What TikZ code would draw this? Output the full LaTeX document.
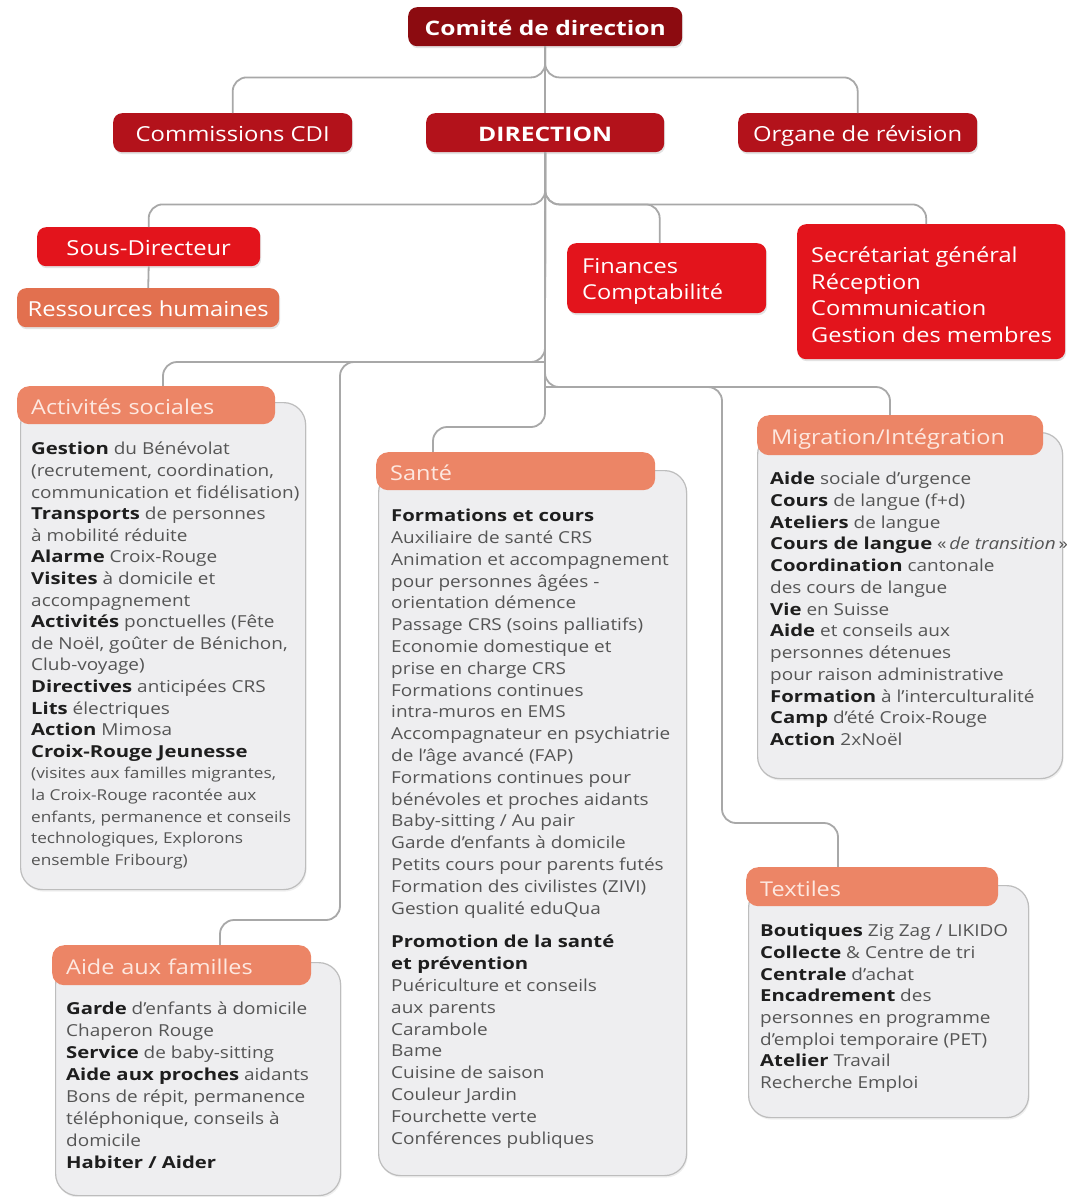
\documentclass[tikz,border=0pt]{standalone}
\usepackage{fontspec}
\setmainfont{Open Sans}[FakeStretch=1.15, BoldFeatures={FakeStretch=1.23}]
\usetikzlibrary{calc,shadows}
\definecolor{dred}{HTML}{8C0B10}
\definecolor{cred}{HTML}{B3121B}
\definecolor{bred}{HTML}{E3141C}
\definecolor{rhor}{HTML}{E2704F}
\definecolor{salm}{HTML}{EC8566}
\definecolor{bodyg}{HTML}{EEEEF0}
\definecolor{bordg}{HTML}{BDBDBD}
\definecolor{connc}{HTML}{A8A8A8}
\definecolor{txtg}{HTML}{555555}
\definecolor{txtb}{HTML}{1E1E1E}
\definecolor{hdrtxt}{HTML}{FDE8E0}
\newcommand{\B}[1]{{\bfseries\color{txtb}#1}}
\tikzset{
  conn/.style={draw=connc, line width=1.8pt, rounded corners=14pt},
  shad/.style={drop shadow={opacity=0.22, shadow xshift=1pt, shadow yshift=-2pt}},
  topbox/.style={rectangle, rounded corners=9pt, inner sep=0pt, anchor=north west, text=white,
    text height=17.5pt, text depth=0.5pt, shad, font={\fontsize{20.7}{24}\selectfont}},
  hdr/.style={rectangle, rounded corners=12pt, fill=salm, inner xsep=14pt, inner ysep=0pt,
    anchor=north west, align=left, text=hdrtxt, text height=19.5pt, text depth=0.5pt,
    font={\fontsize{20.4}{24}\selectfont}},
  bodybox/.style={rectangle, rounded corners=22pt, fill=bodyg, draw=bordg, line width=1.2pt,
    inner sep=0pt, anchor=north west, drop shadow={opacity=0.12, shadow xshift=1pt, shadow yshift=-2pt}},
  bodytxt/.style={anchor=north west, inner sep=0pt, align=left, text=txtg,
    font={\fontsize{16.5}{21.6}\selectfont}},
  redtxt/.style={anchor=north west, inner sep=0pt, align=left, text=white,
    font={\fontsize{20.5}{26.5}\selectfont}}
}
\begin{document}
\begin{tikzpicture}[x=1pt,y=-1pt]
\useasboundingbox[fill=white] (0,0) rectangle (1066,1197);

% ---------- entry points ----------
\coordinate (actIn) at (163,387);
\coordinate (santeIn) at (433,453);
\coordinate (migIn) at (890,416);
\coordinate (texIn) at (838,868);
\coordinate (famIn) at (220,946);

% ---------- top level boxes ----------
\node[topbox, fill=dred, minimum width=274pt, minimum height=39pt, font={\fontsize{20}{24}\selectfont}] (comite) at (408,7) {\bfseries Comité de direction};
\node[topbox, fill=cred, minimum width=239pt, minimum height=39pt] (cdi) at (113,113) {Commissions CDI};
\node[topbox, fill=cred, minimum width=238pt, minimum height=39pt, font={\fontsize{20}{24}\selectfont}] (direction) at (426,113) {\bfseries DIRECTION};
\node[topbox, fill=cred, minimum width=239pt, minimum height=39pt] (organe) at (738,113) {Organe de révision};

\node[topbox, fill=bred, minimum width=223pt, minimum height=39pt] (sousdir) at (37,227) {Sous-Directeur};
\node[topbox, fill=rhor, minimum width=262pt, minimum height=39pt] (rh) at (17,288) {Ressources humaines};
\node[topbox, fill=bred, minimum width=199pt, minimum height=70pt] (fin) at (567,243) {};
\node[redtxt] (fintxt) at (582,258) {Finances\\Comptabilité};
\node[topbox, fill=bred, minimum width=268pt, minimum height=135pt] (sec) at (797,224) {};
\node[redtxt] (sectxt) at (811,247) {Secrétariat général\\Réception\\Communication\\Gestion des membres};

% ---------- connectors ----------
\draw[conn] (comite.south) -- (direction.north);
\draw[conn] (comite.south) -- ++(0,31) -| (cdi.north);
\draw[conn] (comite.south) -- ++(0,31) -| (organe.north);
\draw[conn] (direction.south) -- ++(0,52) -| (sousdir.north);
\draw[conn] (direction.south) -- ++(0,52) -| ($(fin.north)+(-7,0)$);
\draw[conn] (direction.south) -- ++(0,52) -| ($(sec.north)+(-5,0)$);
\draw[conn] (sousdir.south) -- (rh.north);
\draw[conn] (direction.south) -- (545,362) -| (actIn);
\draw[conn] (545,362) -| (340,920) -| (famIn);
\draw[conn] (direction.south) -- (545,387) -| (migIn);
\draw[conn] (545,387) -| (722,823) -| (texIn);
\draw[conn] (direction.south) -- (545,427) -| (santeIn);

% ---------- Activités sociales ----------
\node[bodybox, minimum width=285pt, minimum height=487pt] (actb) at (20,402) {};
\node[hdr, text width=230pt, minimum height=38pt] (acth) at (17,386) {Activités sociales};
\node[bodytxt] (actt) at (31,442) {\B{Gestion} du Bénévolat\\
(recrutement, coordination,\\
communication et fidélisation)\\
\B{Transports} de personnes\\
à mobilité réduite\\
\B{Alarme} Croix-Rouge\\
\B{Visites} à domicile et\\
accompagnement\\
\B{Activités} ponctuelles (Fête\\
de Noël, goûter de Bénichon,\\
Club-voyage)\\
\B{Directives} anticipées CRS\\
\B{Lits} électriques\\
\B{Action} Mimosa\\
\B{Croix-Rouge Jeunesse}\\
{\fontsize{15}{21.4}\selectfont (visites aux familles migrantes,}\\
{\fontsize{15}{21.4}\selectfont la Croix-Rouge racontée aux}\\
{\fontsize{15}{21.4}\selectfont enfants, permanence et conseils}\\
{\fontsize{15}{21.4}\selectfont technologiques, Explorons}\\
{\fontsize{15}{21.4}\selectfont ensemble Fribourg)}};

% ---------- Santé ----------
\node[bodybox, minimum width=308pt, minimum height=705pt] (santeb) at (378,470) {};
\node[hdr, text width=251pt, minimum height=38pt] (santeh) at (376,452) {Santé};
\node[bodytxt, font={\fontsize{16.5}{21.8}\selectfont}] (santet) at (391,509) {\B{Formations et cours}\\
Auxiliaire de santé CRS\\
Animation et accompagnement\\
pour personnes âgées -\\
orientation démence\\
Passage CRS (soins palliatifs)\\
Economie domestique et\\
prise en charge CRS\\
Formations continues\\
intra-muros en EMS\\
Accompagnateur en psychiatrie\\
de l’âge avancé (FAP)\\
Formations continues pour\\
bénévoles et proches aidants\\
Baby-sitting / Au pair\\
Garde d’enfants à domicile\\
Petits cours pour parents futés\\
Formation des civilistes (ZIVI)\\
Gestion qualité eduQua\\[12pt]
\B{Promotion de la santé}\\
\B{et prévention}\\
Puériculture et conseils\\
aux parents\\
Carambole\\
Bame\\
Cuisine de saison\\
Couleur Jardin\\
Fourchette verte\\
Conférences publiques};

% ---------- Migration ----------
\node[bodybox, minimum width=305pt, minimum height=346pt] (migb) at (757,432) {};
\node[hdr, text width=258pt, minimum height=40pt] (migh) at (757,415) {Migration/Intégration};
\node[bodytxt, font={\fontsize{16.5}{21.75}\selectfont}] (migt) at (770,472) {\B{Aide} sociale d’urgence\\
\B{Cours} de langue (f+d)\\
\B{Ateliers} de langue\\
\B{Cours de langue} «\,\textit{de transition}\,»\\
\B{Coordination} cantonale\\
des cours de langue\\
\B{Vie} en Suisse\\
\B{Aide} et conseils aux\\
personnes détenues\\
pour raison administrative\\
\B{Formation} à l’interculturalité\\
\B{Camp} d’été Croix-Rouge\\
\B{Action} 2xNoël};

% ---------- Textiles ----------
\node[bodybox, minimum width=280pt, minimum height=232pt] (texb) at (748,885) {};
\node[hdr, text width=224pt, minimum height=39pt] (texh) at (746,867) {Textiles};
\node[bodytxt, font={\fontsize{16.5}{21.7}\selectfont}] (text) at (760,924) {\B{Boutiques} Zig Zag / LIKIDO\\
\B{Collecte} \& Centre de tri\\
\B{Centrale} d’achat\\
\B{Encadrement} des\\
personnes en programme\\
d’emploi temporaire (PET)\\
\B{Atelier} Travail\\
Recherche Emploi};

% ---------- Aide aux familles ----------
\node[bodybox, minimum width=285pt, minimum height=233pt] (famb) at (55,962) {};
\node[hdr, text width=231pt, minimum height=40pt] (famh) at (52,945) {Aide aux familles};
\node[bodytxt, font={\fontsize{16.5}{21.9}\selectfont}] (famt) at (66,1002) {\B{Garde} d’enfants à domicile\\
Chaperon Rouge\\
\B{Service} de baby-sitting\\
\B{Aide aux proches} aidants\\
Bons de répit, permanence\\
téléphonique, conseils à\\
domicile\\
\B{Habiter / Aider}};
\end{tikzpicture}
\end{document}
